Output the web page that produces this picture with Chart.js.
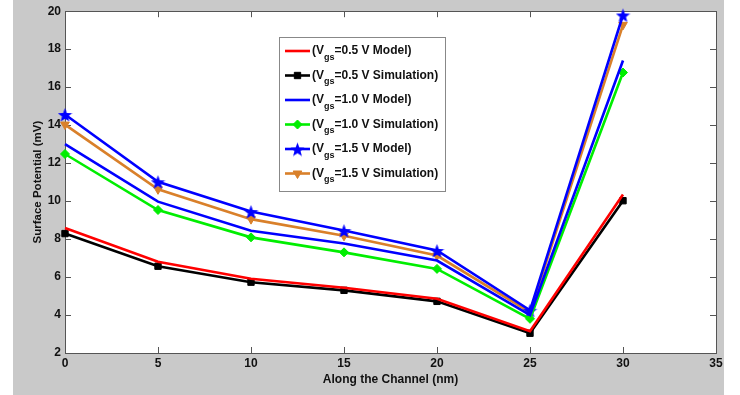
<!DOCTYPE html>
<html>
<head>
<meta charset="utf-8">
<title>Surface Potential</title>
<script src="https://cdn.jsdelivr.net/npm/chart.js"></script>
<style>
  html, body { margin: 0; padding: 0; background: #fff; }
  #chart { display: block; }
</style>
</head>
<body>
<canvas id="chart" width="740" height="395"></canvas>
<script>
  // values
  var positions = [0, 5, 10, 15, 20, 25, 30];
  var model05 = [8.58, 6.81, 5.91, 5.44, 4.86, 3.15, 10.35];
  var sim05 = [8.29, 6.57, 5.73, 5.30, 4.72, 3.04, 10.02];
  var model10 = [13.0, 9.97, 8.44, 7.77, 6.87, 4.0, 17.4];
  var sim10 = [12.48, 9.53, 8.09, 7.30, 6.43, 3.8, 16.77];
  var model15 = [14.56, 11.02, 9.45, 8.45, 7.40, 4.25, 19.8];
  var sim15 = [14.03, 10.62, 9.05, 8.17, 7.13, 4.15, 19.28];
  var seriesLabels = ['0.5 V Model', '0.5 V Simulation', '1.0 V Model',
                      '1.0 V Simulation', '1.5 V Model', '1.5 V Simulation'];
  var xTicks = [0, 5, 10, 15, 20, 25, 30, 35];
  var yTicks = [2, 4, 6, 8, 10, 12, 14, 16, 18, 20];

  var FONT = '"Liberation Sans", Arial, sans-serif';
  var ORANGE = '#d9802a';

  function pairs(ys) {
    return positions.map(function (x, i) { return {x: x, y: ys[i]}; });
  }

  function makeStar(color, size) {
    var c = document.createElement('canvas');
    c.width = c.height = size;
    var g = c.getContext('2d');
    var r = size / 2, ri = r * 0.42;
    g.fillStyle = color;
    g.beginPath();
    for (var i = 0; i < 10; i++) {
      var a = -Math.PI / 2 + i * Math.PI / 5;
      var rr = i % 2 ? ri : r;
      g.lineTo(r + rr * Math.cos(a), r + 1 + rr * Math.sin(a));
    }
    g.closePath();
    g.fill();
    return c;
  }

  function series(label, data, color, style) {
    var ds = {
      label: label,
      data: pairs(data),
      borderColor: color,
      backgroundColor: color,
      borderWidth: 2.6,
      tension: 0,
      clip: false,
      pointRadius: 0,
      pointHoverRadius: 0,
      pointBackgroundColor: color,
      pointBorderColor: color,
      pointBorderWidth: 1
    };
    for (var k in style) ds[k] = style[k];
    return ds;
  }

  var starImg = makeStar('#0000ff', 15);

  var datasets = [
    series(seriesLabels[0], model05, '#ff0000', {}),
    series(seriesLabels[1], sim05, '#000000', {pointStyle: 'rect', pointRadius: 4.5}),
    series(seriesLabels[2], model10, '#0000ff', {}),
    series(seriesLabels[3], sim10, '#00ee00', {pointStyle: 'rectRot', pointRadius: 4.5}),
    series(seriesLabels[4], model15, '#0000ff', {pointStyle: starImg, pointRadius: 7}),
    series(seriesLabels[5], sim15, ORANGE, {pointStyle: 'triangle', pointRotation: 180, pointRadius: 5})
  ];

  // gray figure panel, box and inward tick marks like the original
  var framePlugin = {
    id: 'frame',
    beforeDraw: function (chart) {
      var ctx = chart.ctx;
      ctx.save();
      ctx.fillStyle = '#c9c9c9';
      ctx.fillRect(13, 0, 711, 395);
      var a = chart.chartArea;
      ctx.fillStyle = '#ffffff';
      ctx.fillRect(a.left, a.top, a.right - a.left, a.bottom - a.top);
      ctx.restore();
    },
    beforeDatasetsDraw: function (chart) {
      var ctx = chart.ctx, a = chart.chartArea;
      var xs = chart.scales.x, ys = chart.scales.y;
      ctx.save();
      ctx.strokeStyle = '#555';
      ctx.lineWidth = 1;
      ctx.beginPath();
      xTicks.forEach(function (t) {
        var px = Math.round(xs.getPixelForValue(t)) + 0.5;
        ctx.moveTo(px, a.bottom); ctx.lineTo(px, a.bottom - 6);
        ctx.moveTo(px, a.top); ctx.lineTo(px, a.top + 6);
      });
      yTicks.forEach(function (t) {
        var py = Math.round(ys.getPixelForValue(t)) + 0.5;
        ctx.moveTo(a.left, py); ctx.lineTo(a.left + 6, py);
        ctx.moveTo(a.right, py); ctx.lineTo(a.right - 6, py);
      });
      ctx.stroke();
      ctx.strokeRect(Math.round(a.left) + 0.5, Math.round(a.top) + 0.5,
                     Math.round(a.right - a.left), Math.round(a.bottom - a.top));
      ctx.restore();
    },
    afterDraw: function (chart) {
      // legend with subscripted V_gs
      var ctx = chart.ctx;
      var bx = 279, by = 37, bw = 166, bh = 154;
      ctx.save();
      ctx.fillStyle = '#fff';
      ctx.fillRect(bx, by, bw, bh);
      ctx.strokeStyle = '#888';
      ctx.lineWidth = 1;
      ctx.strokeRect(bx + 0.5, by + 0.5, bw, bh);
      chart.data.datasets.forEach(function (ds, i) {
        var y = 51 + i * 24.5;
        ctx.strokeStyle = ds.borderColor;
        ctx.lineWidth = 2.6;
        ctx.beginPath();
        ctx.moveTo(285, y); ctx.lineTo(310, y);
        ctx.stroke();
        if (ds.pointRadius > 0) {
          ctx.fillStyle = ds.pointBackgroundColor;
          ctx.strokeStyle = ds.pointBorderColor;
          ctx.lineWidth = 1;
          Chart.helpers.drawPoint(ctx, {
            pointStyle: ds.pointStyle, radius: ds.pointRadius,
            rotation: ds.pointRotation || 0, borderWidth: 1
          }, 297.5, y);
        }
        ctx.fillStyle = '#111';
        ctx.textBaseline = 'middle';
        ctx.textAlign = 'left';
        var x = 312;
        ctx.font = 'bold 12px ' + FONT;
        ctx.fillText('(V', x, y);
        x += ctx.measureText('(V').width;
        ctx.font = 'bold 9px ' + FONT;
        ctx.fillText('gs', x, y + 6.5);
        x += ctx.measureText('gs').width;
        ctx.font = 'bold 12px ' + FONT;
        ctx.fillText('=' + ds.label + ')', x, y);
      });
      ctx.restore();
    }
  };

  var config = {
    type: 'line',
    data: { datasets: datasets },
    options: {
      responsive: false,
      animation: false,
      layout: { padding: { left: 13, right: 24, top: 9, bottom: 0 } },
      plugins: {
        legend: { display: false },
        tooltip: { enabled: false }
      },
      scales: {
        x: {
          type: 'linear',
          min: 0,
          max: 35,
          afterFit: function (scale) { scale.height = 42; },
          afterBuildTicks: function (scale) {
            scale.ticks = xTicks.map(function (v) { return {value: v}; });
          },
          grid: { display: false, drawTicks: false },
          border: { display: false },
          ticks: { color: '#111', padding: 3, font: { family: FONT, size: 12, weight: 'bold' } },
          title: {
            display: true,
            text: 'Along the Channel (nm)',
            color: '#111',
            padding: { top: 0, bottom: 8 },
            font: { family: FONT, size: 12, weight: 'bold' }
          }
        },
        y: {
          min: 2,
          max: 20,
          afterFit: function (scale) { scale.width = 52; },
          afterBuildTicks: function (scale) {
            scale.ticks = yTicks.map(function (v) { return {value: v}; });
          },
          grid: { display: false, drawTicks: false },
          border: { display: false },
          ticks: { color: '#111', padding: 4, font: { family: FONT, size: 12, weight: 'bold' } },
          title: {
            display: true,
            text: 'Surface Potential (mV)',
            color: '#111',
            padding: { top: 18, bottom: 0 },
            font: { family: FONT, size: 11.5, weight: 'bold' }
          }
        }
      }
    },
    plugins: [framePlugin]
  };

  var chart = new Chart(document.getElementById('chart'), config);
</script>
</body>
</html>
